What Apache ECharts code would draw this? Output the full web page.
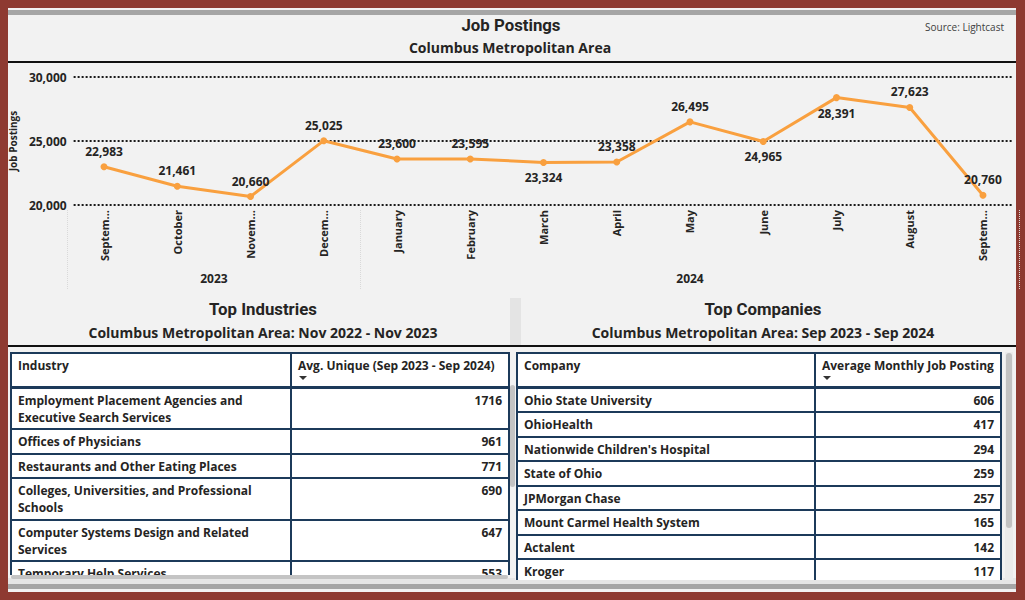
<!DOCTYPE html>
<html><head><meta charset="utf-8">
<script src="https://cdn.jsdelivr.net/npm/echarts@6/dist/echarts.min.js"></script>
<style>
html,body{margin:0;padding:0;width:1025px;height:600px;overflow:hidden;background:#8E3A31;}
.abs{position:absolute;}
#panel{left:8px;top:8px;width:1008px;height:584px;background:#F2F2F2;}
.ttl{font-family:Roboto,sans-serif;font-weight:700;font-size:16.8px;line-height:20px;color:#252423;text-align:center;}
.sub{font-family:'Open Sans',sans-serif;font-weight:700;font-size:14px;line-height:18px;color:#252423;text-align:center;}
.tbox{overflow:hidden;background:#F2F2F2;}
table{border-collapse:collapse;table-layout:fixed;font-family:'Open Sans',sans-serif;font-weight:700;font-size:12px;color:#252423;background:#fff;}
td,th{border:2px solid #1C3A5A;padding:3px 6px 2.5px 6px;line-height:17px;vertical-align:top;text-align:left;font-weight:700;}
th{height:26px;padding-top:3px;border-bottom:3.5px solid #1C3A5A;}
td.num{text-align:right;padding-right:6px;}
.tri{width:0;height:0;border-left:4px solid transparent;border-right:4px solid transparent;border-top:4px solid #333;margin:2px 0 0 1px;}
</style></head><body>
<div id="panel" class="abs"></div>
<div class="abs" style="left:8px;top:10px;width:1008px;height:5px;background:#A6A6A6"></div>
<div class="abs" style="left:8px;top:584px;width:1008px;height:5px;background:#A6A6A6"></div>
<div class="abs" style="left:8px;top:578px;width:1008px;height:6px;background:#E6E6E6"></div>
<div class="abs ttl" id="mainTitle" style="left:311px;top:15px;width:400px;"></div>
<div class="abs sub" id="mainSub" style="left:310px;top:39px;width:400px;"></div>
<div class="abs" id="source" style="right:21px;top:20px;font-family:'Open Sans',sans-serif;font-size:10px;line-height:14px;color:#404040;"></div>
<div class="abs" style="left:8px;top:61px;width:1008px;height:2px;background:#111"></div>

<div class="abs ttl" id="indTitle" style="left:13px;top:299px;width:500px;"></div>
<div class="abs sub" id="indSub" style="left:13px;top:324px;width:500px;"></div>
<div class="abs ttl" id="compTitle" style="left:513px;top:299px;width:500px;"></div>
<div class="abs sub" id="compSub" style="left:513px;top:324px;width:500px;"></div>
<div class="abs" style="left:510px;top:298px;width:11px;height:47px;background:#E4E4E4"></div>
<div class="abs" style="left:8px;top:345px;width:1008px;height:2px;background:#111"></div>

<div class="abs tbox" style="left:9px;top:351px;width:501px;height:224px;"><table id="indTable" style="width:500px;margin:1px 0 0 1px"></table></div>
<div class="abs" style="left:510px;top:385px;width:5px;height:102px;background:#C4C4C4;border-radius:3px"></div>
<div class="abs" style="left:11px;top:575px;width:497px;height:4px;background:#C4C4C4;border-radius:3px"></div>

<div class="abs tbox" style="left:515px;top:351px;width:488px;height:229px;"><table id="compTable" style="width:486px;margin:1px 0 0 1px"></table></div>
<div class="abs" style="left:1005px;top:352px;width:8px;height:228px;background:#EBEBEB"></div>
<div class="abs" style="left:1006px;top:353px;width:6px;height:175px;background:#C2C2C2;border-radius:3px"></div>

<div id="chart" class="abs" style="left:0;top:0;width:1025px;height:300px;"></div>
<script>
// ---- texts ----
const mainTitle = 'Job Postings';
const mainSubtitle = 'Columbus Metropolitan Area';
const sourceText = 'Source: Lightcast';
const yAxisName = 'Job Postings';

// ---- line chart data ----
const months = ['September','October','November','December','January','February','March','April','May','June','July','August','September'];
const monthYear = [2023,2023,2023,2023,2024,2024,2024,2024,2024,2024,2024,2024,2024];
const postings = [22983,21461,20660,25025,23600,23595,23324,23358,26495,24965,28391,27623,20760];
const yMin = 20000, yMax = 30000, yStep = 5000;

// ---- industries table ----
const indTitle = 'Top Industries';
const indSubtitle = 'Columbus Metropolitan Area: Nov 2022 - Nov 2023';
const indHeaders = ['Industry','Avg. Unique (Sep 2023 - Sep 2024)'];
const industries = ['Employment Placement Agencies and Executive Search Services','Offices of Physicians','Restaurants and Other Eating Places','Colleges, Universities, and Professional Schools','Computer Systems Design and Related Services','Temporary Help Services'];
const industryValues = [1716,961,771,690,647,553];

// ---- companies table ----
const compTitle = 'Top Companies';
const compSubtitle = 'Columbus Metropolitan Area: Sep 2023 - Sep 2024';
const compHeaders = ['Company','Average Monthly Job Posting'];
const companies = ['Ohio State University','OhioHealth',"Nationwide Children's Hospital",'State of Ohio','JPMorgan Chase','Mount Carmel Health System','Actalent','Kroger'];
const companyValues = [606,417,294,259,257,165,142,117];

// label placement (style, not data)
const labelBelow = [6, 9, 10];

document.getElementById('mainTitle').textContent = mainTitle;
document.getElementById('mainSub').textContent = mainSubtitle;
document.getElementById('source').textContent = sourceText;
document.getElementById('indTitle').textContent = indTitle;
document.getElementById('indSub').textContent = indSubtitle;
document.getElementById('compTitle').textContent = compTitle;
document.getElementById('compSub').textContent = compSubtitle;

function buildTable(id, headers, names, values, col1) {
  const t = document.getElementById(id);
  const cg = document.createElement('colgroup');
  const c1 = document.createElement('col'); c1.style.width = col1 + 'px';
  const c2 = document.createElement('col');
  cg.appendChild(c1); cg.appendChild(c2); t.appendChild(cg);
  const hr = document.createElement('tr');
  headers.forEach((h, i) => {
    const th = document.createElement('th');
    const s = document.createElement('div'); s.textContent = h; th.appendChild(s);
    if (i === 1) { const tr = document.createElement('div'); tr.className = 'tri'; th.appendChild(tr); }
    hr.appendChild(th);
  });
  t.appendChild(hr);
  names.forEach((n, i) => {
    const r = document.createElement('tr');
    const a = document.createElement('td'); a.textContent = n;
    const b = document.createElement('td'); b.className = 'num'; b.textContent = String(values[i]);
    r.appendChild(a); r.appendChild(b); t.appendChild(r);
  });
}
buildTable('indTable', indHeaders, industries, industryValues, 280);
buildTable('compTable', compHeaders, companies, companyValues, 298);

// ---- chart ----
const fmt = v => Number(v).toLocaleString('en-US');
const groups = [];
monthYear.forEach((y, i) => {
  const g = groups[groups.length - 1];
  if (g && g.year === y) g.end = i; else groups.push({ year: y, start: i, end: i });
});
const yearCenters = groups.map(g => (g.start + g.end) / 2);
const yearBounds = [-0.5].concat(groups.map(g => g.end + 0.5));
const txt = { fontFamily: 'Open Sans', fontWeight: 'bold', color: '#252423' };

const chart = echarts.init(document.getElementById('chart'), null, { renderer: 'svg' });
chart.setOption({
  animation: false,
  grid: [
    { left: 73, right: 13, top: 77, height: 128 },
    { left: 67.4, right: 5.4, top: 77, height: 128 }
  ],
  xAxis: [
    { gridIndex: 0, type: 'value', show: false, min: 0, max: 1 },
    { gridIndex: 1, type: 'category', data: months, boundaryGap: true,
      axisLine: { show: false }, axisTick: { show: false },
      axisLabel: Object.assign({ rotate: 90, margin: 5, fontSize: 11, interval: 0, width: 53, overflow: 'truncate', ellipsis: '...' }, txt) },
    { gridIndex: 1, type: 'value', min: -0.5, max: months.length - 0.5, position: 'bottom', offset: 5,
      axisLine: { show: false }, splitLine: { show: false },
      axisTick: { show: true, customValues: yearBounds, length: 80, lineStyle: { color: '#D9D9D9', type: 'dotted', width: 1 } },
      axisLabel: Object.assign({ customValues: yearCenters, margin: 62, fontSize: 12,
        formatter: v => { const k = yearCenters.indexOf(v); return k >= 0 ? String(groups[k].year) : ''; } }, txt) }
  ],
  yAxis: [
    { gridIndex: 0, type: 'value', min: yMin, max: yMax, interval: yStep,
      axisLine: { show: false }, axisTick: { show: false },
      axisLabel: Object.assign({ margin: 7, fontSize: 12, formatter: fmt }, txt),
      splitLine: { lineStyle: { color: '#1a1a1a', type: [2, 2], width: 2 } },
      name: yAxisName, nameLocation: 'middle', nameGap: 51,
      nameTextStyle: Object.assign({ fontSize: 10 }, txt) },
    { gridIndex: 1, type: 'value', min: yMin, max: yMax, show: false }
  ],
  series: [{
    type: 'line', xAxisIndex: 1, yAxisIndex: 1,
    data: postings.map((v, i) => ({ value: v, label: { position: labelBelow.indexOf(i) >= 0 ? 'bottom' : 'top' } })),
    lineStyle: { color: '#F9A03F', width: 3 },
    itemStyle: { color: '#F9A03F' },
    symbol: 'circle', symbolSize: 7,
    label: Object.assign({ show: true, fontSize: 12, distance: 6, formatter: p => fmt(p.value) }, txt)
  }]
});
</script>
</body></html>
